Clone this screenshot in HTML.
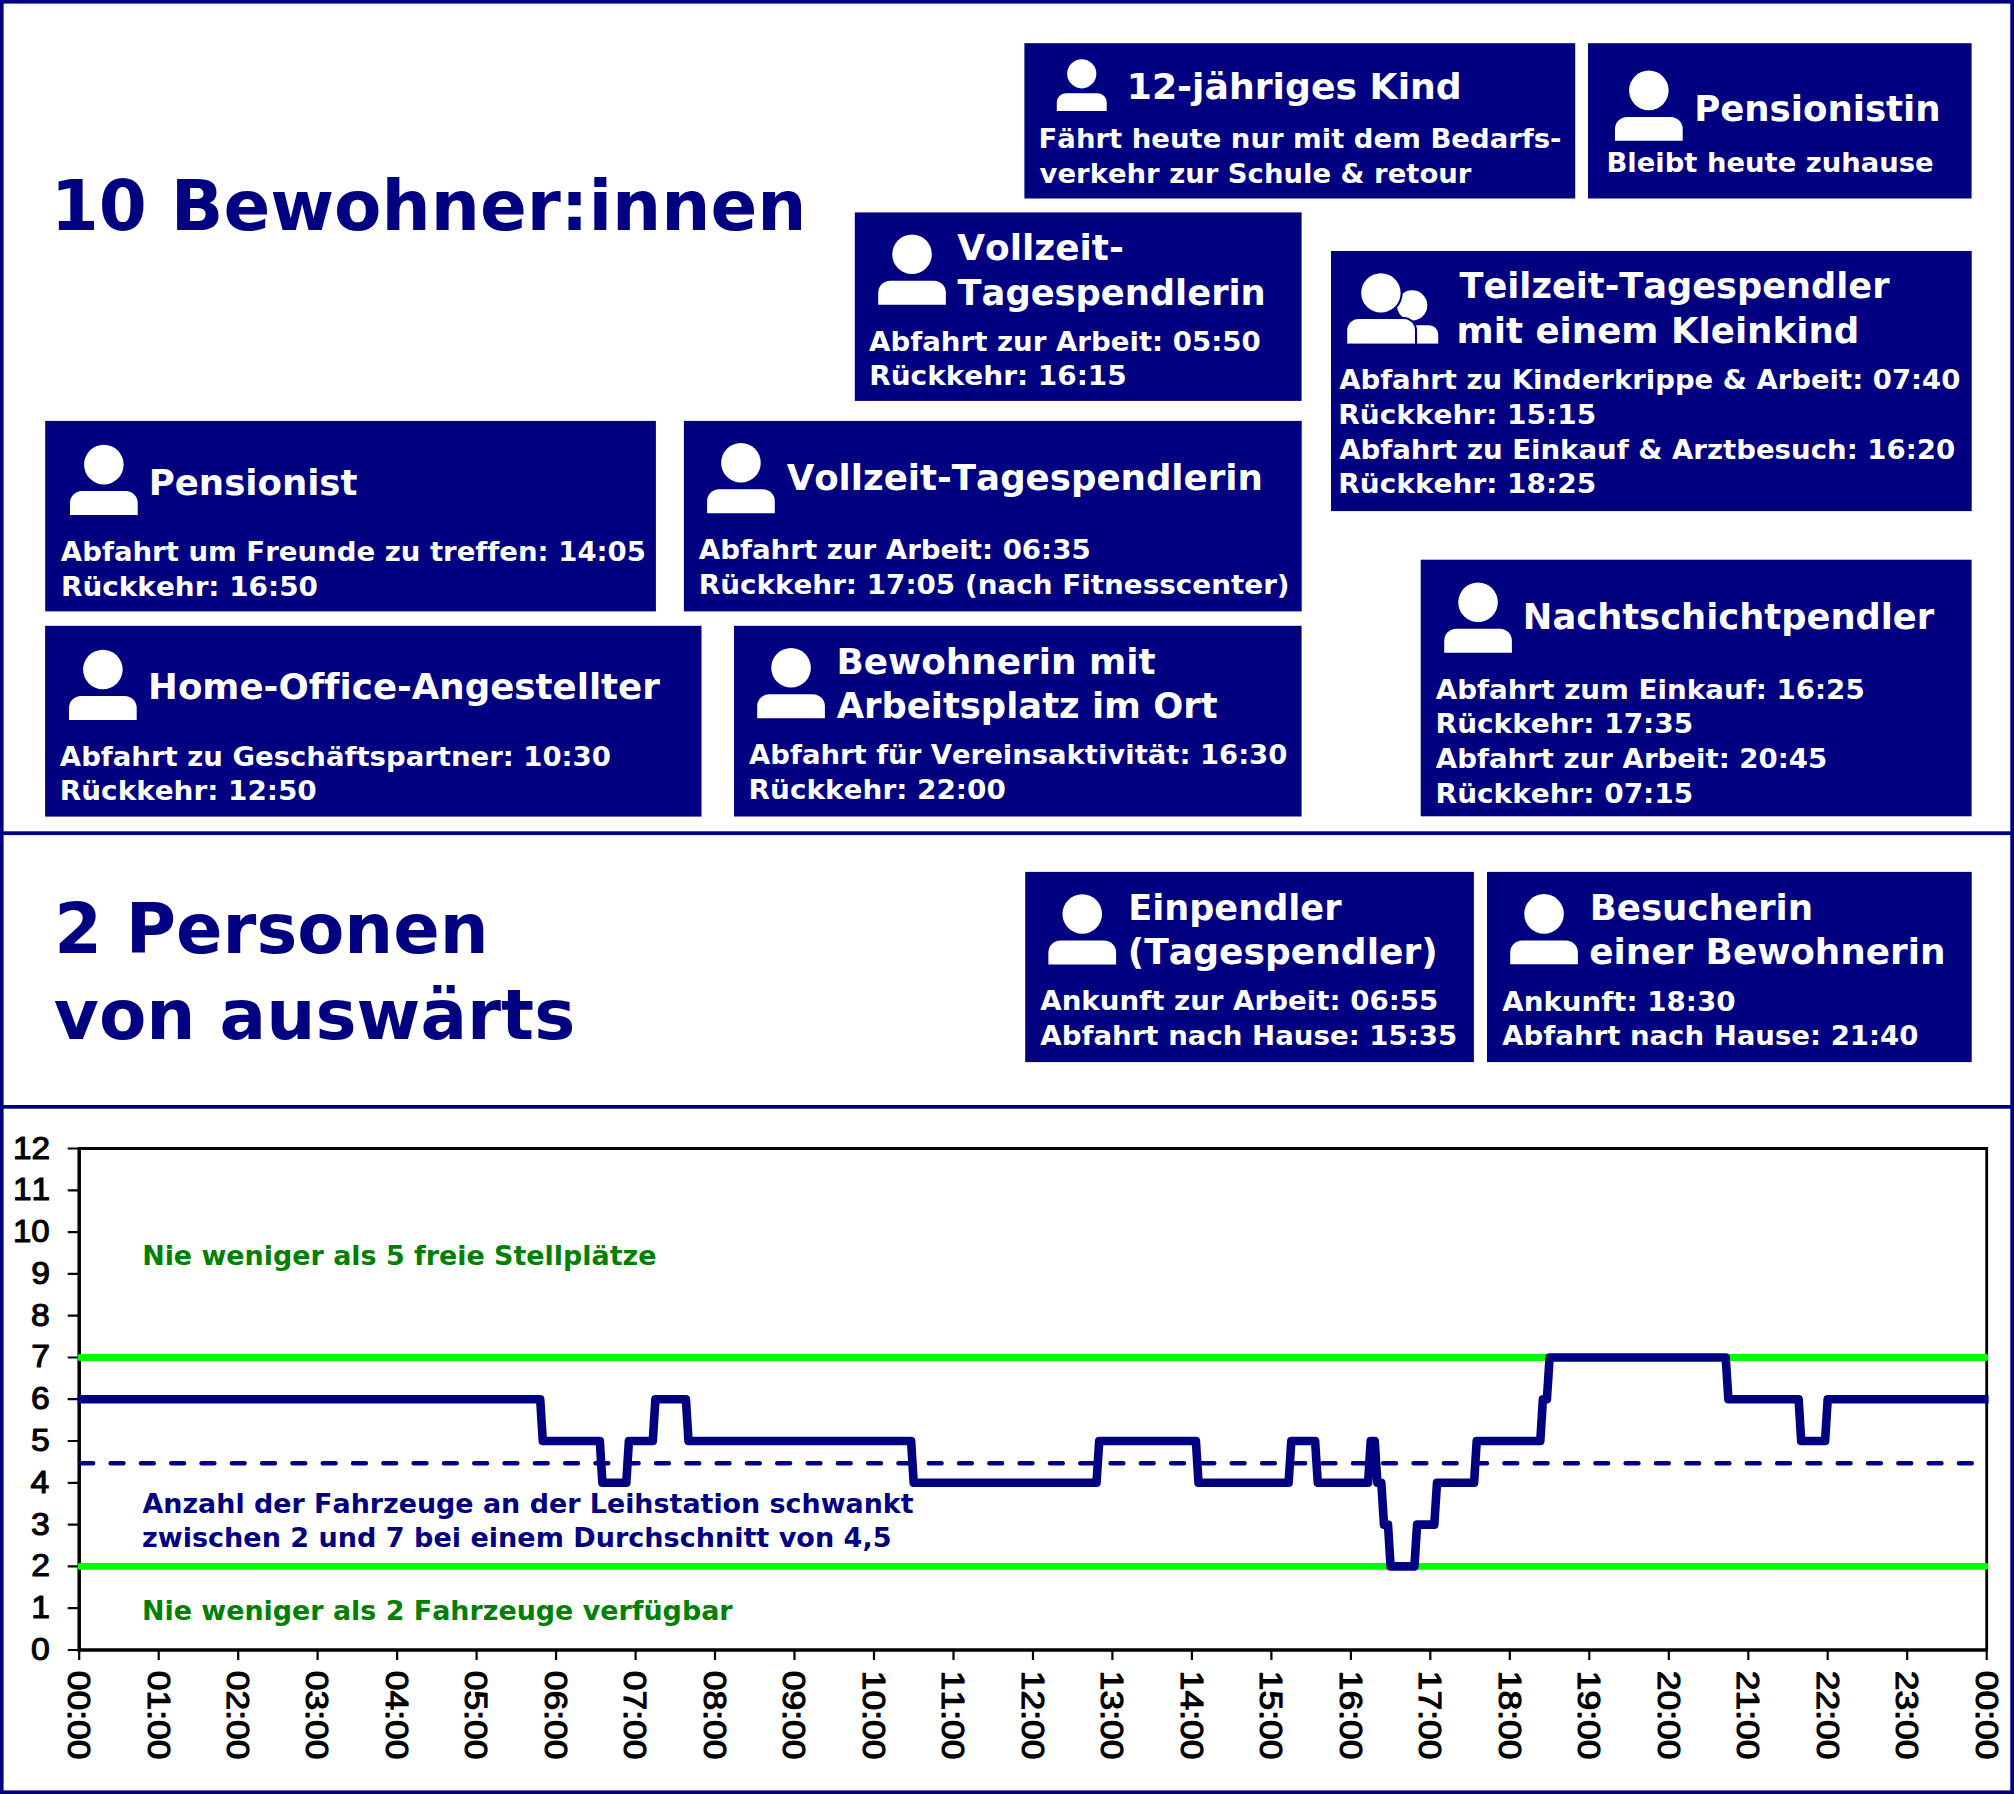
<!DOCTYPE html>
<html lang="de"><head><meta charset="utf-8"><title>Leihstation</title>
<style>
html,body{margin:0;padding:0;background:#fff}
svg{display:block}
text{font-kerning:none;font-variant-ligatures:none;white-space:pre}
.v{font-family:"DejaVu Sans","Liberation Sans",sans-serif;font-weight:bold}
.l{font-family:"Liberation Sans",sans-serif;font-weight:normal}
.lb{font-family:"Liberation Sans",sans-serif;font-weight:bold}
</style></head><body>
<svg width="2014" height="1794" viewBox="0 0 2014 1794">
<rect x="0" y="0" width="2014" height="1794" fill="#fff"/>
<rect x="0.0" y="0.0" width="2014.0" height="3.6" fill="#000080"/>
<rect x="0.0" y="1790.4" width="2014.0" height="3.6" fill="#000080"/>
<rect x="0.0" y="0.0" width="3.6" height="1794.0" fill="#000080"/>
<rect x="2010.3" y="0.0" width="3.7" height="1794.0" fill="#000080"/>
<rect x="0.0" y="831.3" width="2014.0" height="3.8" fill="#000080"/>
<rect x="0.0" y="1105.0" width="2014.0" height="3.7" fill="#000080"/>
<text class="v" x="50.71" y="229.8" font-size="68.8" fill="#000080" textLength="755.68" lengthAdjust="spacingAndGlyphs">10 Bewohner:innen</text>
<text class="v" x="54.17" y="952.7" font-size="68.8" fill="#000080" textLength="434.39" lengthAdjust="spacingAndGlyphs">2 Personen</text>
<text class="v" x="53.85" y="1039.0" font-size="68.8" fill="#000080" textLength="521.42" lengthAdjust="spacingAndGlyphs">von auswärts</text>
<rect x="1024.4" y="43.2" width="550.8" height="155.3" fill="#000080"/>
<circle cx="1081.75" cy="73.79" r="14.59" fill="#fff"/>
<path fill="#fff" d="M1056.80 110.94V102.17a8.84 8.84 0 0 1 8.84 -8.84H1097.85a8.84 8.84 0 0 1 8.84 8.84V110.94Z"/>
<text class="v" x="1126.72" y="99.2" font-size="35.5" fill="#fff" textLength="335.02" lengthAdjust="spacingAndGlyphs">12-jähriges Kind</text>
<text class="v" x="1038.58" y="147.7" font-size="27.3" fill="#fff" textLength="522.91" lengthAdjust="spacingAndGlyphs">Fährt heute nur mit dem Bedarfs-</text>
<text class="v" x="1039.58" y="182.5" font-size="27.3" fill="#fff" textLength="431.80" lengthAdjust="spacingAndGlyphs">verkehr zur Schule &amp; retour</text>
<rect x="1588.0" y="43.2" width="383.6" height="155.3" fill="#000080"/>
<circle cx="1648.85" cy="90.40" r="19.80" fill="#fff"/>
<path fill="#fff" d="M1615.00 140.80V128.90a12.00 12.00 0 0 1 12.00 -12.00H1670.70a12.00 12.00 0 0 1 12.00 12.00V140.80Z"/>
<text class="v" x="1694.14" y="120.9" font-size="35.5" fill="#fff" textLength="246.44" lengthAdjust="spacingAndGlyphs">Pensionistin</text>
<text class="v" x="1606.48" y="171.8" font-size="27.3" fill="#fff" textLength="327.24" lengthAdjust="spacingAndGlyphs">Bleibt heute zuhause</text>
<rect x="854.8" y="212.4" width="446.8" height="188.5" fill="#000080"/>
<circle cx="912.05" cy="254.30" r="19.80" fill="#fff"/>
<path fill="#fff" d="M878.20 304.70V292.80a12.00 12.00 0 0 1 12.00 -12.00H933.90a12.00 12.00 0 0 1 12.00 12.00V304.70Z"/>
<text class="v" x="957.32" y="259.9" font-size="35.5" fill="#fff" textLength="166.52" lengthAdjust="spacingAndGlyphs">Vollzeit-</text>
<text class="v" x="957.53" y="304.6" font-size="35.5" fill="#fff" textLength="308.23" lengthAdjust="spacingAndGlyphs">Tagespendlerin</text>
<text class="v" x="869.07" y="351.1" font-size="27.3" fill="#fff" textLength="391.66" lengthAdjust="spacingAndGlyphs">Abfahrt zur Arbeit: 05:50</text>
<text class="v" x="869.24" y="384.9" font-size="27.3" fill="#fff" textLength="257.51" lengthAdjust="spacingAndGlyphs">Rückkehr: 16:15</text>
<rect x="1331.0" y="251.0" width="640.7" height="260.1" fill="#000080"/>
<text class="v" x="1459.43" y="298.2" font-size="35.5" fill="#fff" textLength="430.17" lengthAdjust="spacingAndGlyphs">Teilzeit-Tagespendler</text>
<text class="v" x="1456.64" y="342.6" font-size="35.5" fill="#fff" textLength="402.65" lengthAdjust="spacingAndGlyphs">mit einem Kleinkind</text>
<text class="v" x="1339.17" y="388.7" font-size="27.3" fill="#fff" textLength="621.15" lengthAdjust="spacingAndGlyphs">Abfahrt zu Kinderkrippe &amp; Arbeit: 07:40</text>
<text class="v" x="1338.33" y="424.0" font-size="27.3" fill="#fff" textLength="257.82" lengthAdjust="spacingAndGlyphs">Rückkehr: 15:15</text>
<text class="v" x="1339.17" y="458.8" font-size="27.3" fill="#fff" textLength="615.95" lengthAdjust="spacingAndGlyphs">Abfahrt zu Einkauf &amp; Arztbesuch: 16:20</text>
<text class="v" x="1338.33" y="492.9" font-size="27.3" fill="#fff" textLength="257.82" lengthAdjust="spacingAndGlyphs">Rückkehr: 18:25</text>
<g fill="#fff"><circle cx="1412.2" cy="305.4" r="15.1"/><path d="M1408 343.8V325.3H1429.2a9 9 0 0 1 9 9V343.8Z"/><g stroke="#000080" stroke-width="4.2" paint-order="stroke"><circle cx="1380.9" cy="292.9" r="19.7"/><path d="M1347.2 343.8V330.5a11.5 11.5 0 0 1 11.5 -11.5H1403.5a11.5 11.5 0 0 1 11.5 11.5V343.8Z"/></g><rect x="1340" y="343.8" width="105" height="4" fill="#000080"/></g>
<rect x="45.2" y="420.9" width="610.7" height="190.5" fill="#000080"/>
<circle cx="103.85" cy="464.60" r="19.80" fill="#fff"/>
<path fill="#fff" d="M70.00 515.00V503.10a12.00 12.00 0 0 1 12.00 -12.00H125.70a12.00 12.00 0 0 1 12.00 12.00V515.00Z"/>
<text class="v" x="148.74" y="494.5" font-size="35.5" fill="#fff" textLength="208.78" lengthAdjust="spacingAndGlyphs">Pensionist</text>
<text class="v" x="60.87" y="561.1" font-size="27.3" fill="#fff" textLength="585.06" lengthAdjust="spacingAndGlyphs">Abfahrt um Freunde zu treffen: 14:05</text>
<text class="v" x="61.04" y="595.6" font-size="27.3" fill="#fff" textLength="256.89" lengthAdjust="spacingAndGlyphs">Rückkehr: 16:50</text>
<rect x="683.9" y="420.9" width="617.8" height="190.5" fill="#000080"/>
<circle cx="740.95" cy="462.80" r="19.80" fill="#fff"/>
<path fill="#fff" d="M707.10 513.20V501.30a12.00 12.00 0 0 1 12.00 -12.00H762.80a12.00 12.00 0 0 1 12.00 12.00V513.20Z"/>
<text class="v" x="786.63" y="489.7" font-size="35.5" fill="#fff" textLength="476.15" lengthAdjust="spacingAndGlyphs">Vollzeit-Tagespendlerin</text>
<text class="v" x="698.77" y="559.3" font-size="27.3" fill="#fff" textLength="391.86" lengthAdjust="spacingAndGlyphs">Abfahrt zur Arbeit: 06:35</text>
<text class="v" x="698.75" y="593.6" font-size="27.3" fill="#fff" textLength="590.84" lengthAdjust="spacingAndGlyphs">Rückkehr: 17:05 (nach Fitnesscenter)</text>
<rect x="45.1" y="625.8" width="656.4" height="190.8" fill="#000080"/>
<circle cx="102.85" cy="669.50" r="19.80" fill="#fff"/>
<path fill="#fff" d="M69.00 719.90V708.00a12.00 12.00 0 0 1 12.00 -12.00H124.70a12.00 12.00 0 0 1 12.00 12.00V719.90Z"/>
<text class="v" x="148.13" y="699.4" font-size="35.5" fill="#fff" textLength="511.67" lengthAdjust="spacingAndGlyphs">Home-Office-Angestellter</text>
<text class="v" x="59.87" y="765.6" font-size="27.3" fill="#fff" textLength="551.05" lengthAdjust="spacingAndGlyphs">Abfahrt zu Geschäftspartner: 10:30</text>
<text class="v" x="59.84" y="800.2" font-size="27.3" fill="#fff" textLength="256.89" lengthAdjust="spacingAndGlyphs">Rückkehr: 12:50</text>
<rect x="734.0" y="625.8" width="567.6" height="190.7" fill="#000080"/>
<circle cx="791.05" cy="667.80" r="19.80" fill="#fff"/>
<path fill="#fff" d="M757.20 718.20V706.30a12.00 12.00 0 0 1 12.00 -12.00H812.90a12.00 12.00 0 0 1 12.00 12.00V718.20Z"/>
<text class="v" x="836.51" y="673.8" font-size="35.5" fill="#fff" textLength="319.21" lengthAdjust="spacingAndGlyphs">Bewohnerin mit</text>
<text class="v" x="836.63" y="717.7" font-size="35.5" fill="#fff" textLength="381.08" lengthAdjust="spacingAndGlyphs">Arbeitsplatz im Ort</text>
<text class="v" x="749.07" y="763.9" font-size="27.3" fill="#fff" textLength="538.25" lengthAdjust="spacingAndGlyphs">Abfahrt für Vereinsaktivität: 16:30</text>
<text class="v" x="748.64" y="798.5" font-size="27.3" fill="#fff" textLength="257.20" lengthAdjust="spacingAndGlyphs">Rückkehr: 22:00</text>
<rect x="1420.7" y="559.7" width="550.9" height="256.6" fill="#000080"/>
<circle cx="1478.05" cy="602.30" r="19.80" fill="#fff"/>
<path fill="#fff" d="M1444.20 652.70V640.80a12.00 12.00 0 0 1 12.00 -12.00H1499.90a12.00 12.00 0 0 1 12.00 12.00V652.70Z"/>
<text class="v" x="1522.86" y="628.8" font-size="35.5" fill="#fff" textLength="411.34" lengthAdjust="spacingAndGlyphs">Nachtschichtpendler</text>
<text class="v" x="1435.76" y="699.0" font-size="27.3" fill="#fff" textLength="428.97" lengthAdjust="spacingAndGlyphs">Abfahrt zum Einkauf: 16:25</text>
<text class="v" x="1435.64" y="733.1" font-size="27.3" fill="#fff" textLength="257.51" lengthAdjust="spacingAndGlyphs">Rückkehr: 17:35</text>
<text class="v" x="1435.77" y="768.2" font-size="27.3" fill="#fff" textLength="391.46" lengthAdjust="spacingAndGlyphs">Abfahrt zur Arbeit: 20:45</text>
<text class="v" x="1435.64" y="802.6" font-size="27.3" fill="#fff" textLength="257.51" lengthAdjust="spacingAndGlyphs">Rückkehr: 07:15</text>
<rect x="1025.2" y="871.9" width="448.7" height="190.2" fill="#000080"/>
<circle cx="1082.25" cy="914.00" r="19.80" fill="#fff"/>
<path fill="#fff" d="M1048.40 964.40V952.50a12.00 12.00 0 0 1 12.00 -12.00H1104.10a12.00 12.00 0 0 1 12.00 12.00V964.40Z"/>
<text class="v" x="1128.18" y="919.5" font-size="35.5" fill="#fff" textLength="213.33" lengthAdjust="spacingAndGlyphs">Einpendler</text>
<text class="v" x="1127.80" y="963.5" font-size="35.5" fill="#fff" textLength="309.90" lengthAdjust="spacingAndGlyphs">(Tagespendler)</text>
<text class="v" x="1040.26" y="1010.4" font-size="27.3" fill="#fff" textLength="397.97" lengthAdjust="spacingAndGlyphs">Ankunft zur Arbeit: 06:55</text>
<text class="v" x="1040.27" y="1044.6" font-size="27.3" fill="#fff" textLength="416.96" lengthAdjust="spacingAndGlyphs">Abfahrt nach Hause: 15:35</text>
<rect x="1487.0" y="871.9" width="484.7" height="190.2" fill="#000080"/>
<circle cx="1544.05" cy="913.90" r="19.80" fill="#fff"/>
<path fill="#fff" d="M1510.20 964.30V952.40a12.00 12.00 0 0 1 12.00 -12.00H1565.90a12.00 12.00 0 0 1 12.00 12.00V964.30Z"/>
<text class="v" x="1589.63" y="919.6" font-size="35.5" fill="#fff" textLength="223.55" lengthAdjust="spacingAndGlyphs">Besucherin</text>
<text class="v" x="1589.16" y="963.5" font-size="35.5" fill="#fff" textLength="356.34" lengthAdjust="spacingAndGlyphs">einer Bewohnerin</text>
<text class="v" x="1502.26" y="1010.6" font-size="27.3" fill="#fff" textLength="233.26" lengthAdjust="spacingAndGlyphs">Ankunft: 18:30</text>
<text class="v" x="1502.27" y="1045.0" font-size="27.3" fill="#fff" textLength="416.15" lengthAdjust="spacingAndGlyphs">Abfahrt nach Hause: 21:40</text>
<path d="M79.2 1148.5H1986.7V1650.0" fill="none" stroke="#000" stroke-width="2.8"/>
<path d="M79.2 1147.3V1650.0H1987.9" fill="none" stroke="#000" stroke-width="3.5" stroke-linejoin="miter"/>
<line x1="68.6" y1="1650.0" x2="79.2" y2="1650.0" stroke="#000" stroke-width="2.2" stroke-linecap="round"/>
<line x1="68.6" y1="1608.2" x2="79.2" y2="1608.2" stroke="#000" stroke-width="2.2" stroke-linecap="round"/>
<line x1="68.6" y1="1566.4" x2="79.2" y2="1566.4" stroke="#000" stroke-width="2.2" stroke-linecap="round"/>
<line x1="68.6" y1="1524.6" x2="79.2" y2="1524.6" stroke="#000" stroke-width="2.2" stroke-linecap="round"/>
<line x1="68.6" y1="1482.8" x2="79.2" y2="1482.8" stroke="#000" stroke-width="2.2" stroke-linecap="round"/>
<line x1="68.6" y1="1441.0" x2="79.2" y2="1441.0" stroke="#000" stroke-width="2.2" stroke-linecap="round"/>
<line x1="68.6" y1="1399.2" x2="79.2" y2="1399.2" stroke="#000" stroke-width="2.2" stroke-linecap="round"/>
<line x1="68.6" y1="1357.5" x2="79.2" y2="1357.5" stroke="#000" stroke-width="2.2" stroke-linecap="round"/>
<line x1="68.6" y1="1315.7" x2="79.2" y2="1315.7" stroke="#000" stroke-width="2.2" stroke-linecap="round"/>
<line x1="68.6" y1="1273.9" x2="79.2" y2="1273.9" stroke="#000" stroke-width="2.2" stroke-linecap="round"/>
<line x1="68.6" y1="1232.1" x2="79.2" y2="1232.1" stroke="#000" stroke-width="2.2" stroke-linecap="round"/>
<line x1="68.6" y1="1190.3" x2="79.2" y2="1190.3" stroke="#000" stroke-width="2.2" stroke-linecap="round"/>
<line x1="68.6" y1="1148.5" x2="79.2" y2="1148.5" stroke="#000" stroke-width="2.2" stroke-linecap="round"/>
<line x1="79.2" y1="1650.0" x2="79.2" y2="1660.0" stroke="#000" stroke-width="2.2"/>
<line x1="158.7" y1="1650.0" x2="158.7" y2="1660.0" stroke="#000" stroke-width="2.2"/>
<line x1="238.2" y1="1650.0" x2="238.2" y2="1660.0" stroke="#000" stroke-width="2.2"/>
<line x1="317.6" y1="1650.0" x2="317.6" y2="1660.0" stroke="#000" stroke-width="2.2"/>
<line x1="397.1" y1="1650.0" x2="397.1" y2="1660.0" stroke="#000" stroke-width="2.2"/>
<line x1="476.6" y1="1650.0" x2="476.6" y2="1660.0" stroke="#000" stroke-width="2.2"/>
<line x1="556.1" y1="1650.0" x2="556.1" y2="1660.0" stroke="#000" stroke-width="2.2"/>
<line x1="635.6" y1="1650.0" x2="635.6" y2="1660.0" stroke="#000" stroke-width="2.2"/>
<line x1="715.0" y1="1650.0" x2="715.0" y2="1660.0" stroke="#000" stroke-width="2.2"/>
<line x1="794.5" y1="1650.0" x2="794.5" y2="1660.0" stroke="#000" stroke-width="2.2"/>
<line x1="874.0" y1="1650.0" x2="874.0" y2="1660.0" stroke="#000" stroke-width="2.2"/>
<line x1="953.5" y1="1650.0" x2="953.5" y2="1660.0" stroke="#000" stroke-width="2.2"/>
<line x1="1033.0" y1="1650.0" x2="1033.0" y2="1660.0" stroke="#000" stroke-width="2.2"/>
<line x1="1112.4" y1="1650.0" x2="1112.4" y2="1660.0" stroke="#000" stroke-width="2.2"/>
<line x1="1191.9" y1="1650.0" x2="1191.9" y2="1660.0" stroke="#000" stroke-width="2.2"/>
<line x1="1271.4" y1="1650.0" x2="1271.4" y2="1660.0" stroke="#000" stroke-width="2.2"/>
<line x1="1350.9" y1="1650.0" x2="1350.9" y2="1660.0" stroke="#000" stroke-width="2.2"/>
<line x1="1430.3" y1="1650.0" x2="1430.3" y2="1660.0" stroke="#000" stroke-width="2.2"/>
<line x1="1509.8" y1="1650.0" x2="1509.8" y2="1660.0" stroke="#000" stroke-width="2.2"/>
<line x1="1589.3" y1="1650.0" x2="1589.3" y2="1660.0" stroke="#000" stroke-width="2.2"/>
<line x1="1668.8" y1="1650.0" x2="1668.8" y2="1660.0" stroke="#000" stroke-width="2.2"/>
<line x1="1748.3" y1="1650.0" x2="1748.3" y2="1660.0" stroke="#000" stroke-width="2.2"/>
<line x1="1827.7" y1="1650.0" x2="1827.7" y2="1660.0" stroke="#000" stroke-width="2.2"/>
<line x1="1907.2" y1="1650.0" x2="1907.2" y2="1660.0" stroke="#000" stroke-width="2.2"/>
<line x1="1986.7" y1="1650.0" x2="1986.7" y2="1660.0" stroke="#000" stroke-width="2.2"/>
<rect x="77.7" y="1354.1" width="1910.4" height="6.8" rx="2" fill="#00ff00"/>
<rect x="77.7" y="1563.0" width="1910.4" height="6.8" rx="2" fill="#00ff00"/>
<line x1="80.35" y1="1463.2" x2="1986.7" y2="1463.2" stroke="#000080" stroke-width="4.5" stroke-linecap="round" stroke-dasharray="12.8 17.5"/>
<path d="M77.7 1399.2L540.2 1399.2L542.8 1441.0L599.8 1441.0L602.4 1482.8L626.3 1482.8L628.9 1441.0L652.8 1441.0L655.4 1399.2L685.9 1399.2L688.5 1441.0L911.1 1441.0L913.7 1482.8L1096.5 1482.8L1099.2 1441.0L1195.9 1441.0L1198.5 1482.8L1288.6 1482.8L1291.3 1441.0L1315.1 1441.0L1317.8 1482.8L1368.1 1482.8L1370.7 1441.0L1374.7 1441.0L1377.4 1482.8L1381.3 1482.8L1384.0 1524.6L1388.0 1524.6L1390.6 1566.4L1414.4 1566.4L1417.1 1524.6L1434.3 1524.6L1437.0 1482.8L1474.1 1482.8L1476.7 1441.0L1540.3 1441.0L1542.9 1399.2L1546.9 1399.2L1549.6 1357.5L1725.7 1357.5L1728.4 1399.2L1798.6 1399.2L1801.2 1441.0L1825.1 1441.0L1827.7 1399.2L1988.6 1399.2" fill="none" stroke="#000080" stroke-width="8.6" stroke-linejoin="round" stroke-linecap="butt"/>
<text class="l" x="30.92" y="1660.0" font-size="32.1" fill="#000" textLength="18.75" lengthAdjust="spacingAndGlyphs" stroke="#000" stroke-width="1.1" stroke-linejoin="round">0</text>
<text class="l" x="31.25" y="1618.2" font-size="32.1" fill="#000" textLength="18.75" lengthAdjust="spacingAndGlyphs" stroke="#000" stroke-width="1.1" stroke-linejoin="round">1</text>
<text class="l" x="31.30" y="1576.4" font-size="32.1" fill="#000" textLength="18.75" lengthAdjust="spacingAndGlyphs" stroke="#000" stroke-width="1.1" stroke-linejoin="round">2</text>
<text class="l" x="31.09" y="1534.6" font-size="32.1" fill="#000" textLength="18.75" lengthAdjust="spacingAndGlyphs" stroke="#000" stroke-width="1.1" stroke-linejoin="round">3</text>
<text class="l" x="30.59" y="1492.8" font-size="32.1" fill="#000" textLength="18.75" lengthAdjust="spacingAndGlyphs" stroke="#000" stroke-width="1.1" stroke-linejoin="round">4</text>
<text class="l" x="31.02" y="1451.0" font-size="32.1" fill="#000" textLength="18.75" lengthAdjust="spacingAndGlyphs" stroke="#000" stroke-width="1.1" stroke-linejoin="round">5</text>
<text class="l" x="31.09" y="1409.2" font-size="32.1" fill="#000" textLength="18.75" lengthAdjust="spacingAndGlyphs" stroke="#000" stroke-width="1.1" stroke-linejoin="round">6</text>
<text class="l" x="31.30" y="1367.4" font-size="32.1" fill="#000" textLength="18.75" lengthAdjust="spacingAndGlyphs" stroke="#000" stroke-width="1.1" stroke-linejoin="round">7</text>
<text class="l" x="31.07" y="1325.6" font-size="32.1" fill="#000" textLength="18.75" lengthAdjust="spacingAndGlyphs" stroke="#000" stroke-width="1.1" stroke-linejoin="round">8</text>
<text class="l" x="31.20" y="1283.8" font-size="32.1" fill="#000" textLength="18.75" lengthAdjust="spacingAndGlyphs" stroke="#000" stroke-width="1.1" stroke-linejoin="round">9</text>
<text class="l" x="12.94" y="1242.0" font-size="32.1" fill="#000" textLength="36.70" lengthAdjust="spacingAndGlyphs" stroke="#000" stroke-width="1.1" stroke-linejoin="round">10</text>
<text class="l" x="12.91" y="1200.2" font-size="32.1" fill="#000" textLength="37.07" lengthAdjust="spacingAndGlyphs" stroke="#000" stroke-width="1.1" stroke-linejoin="round">11</text>
<text class="l" x="12.91" y="1158.5" font-size="32.1" fill="#000" textLength="37.12" lengthAdjust="spacingAndGlyphs" stroke="#000" stroke-width="1.1" stroke-linejoin="round">12</text>
<g transform="translate(67.5 1671.7) rotate(90)">
<text class="l" x="-0.83" y="-0.6" font-size="32.1" fill="#000" textLength="88.67" lengthAdjust="spacingAndGlyphs" stroke="#000" stroke-width="1.1" stroke-linejoin="round">00:00</text>
</g>
<g transform="translate(147.0 1671.7) rotate(90)">
<text class="l" x="-0.83" y="-0.6" font-size="32.1" fill="#000" textLength="88.67" lengthAdjust="spacingAndGlyphs" stroke="#000" stroke-width="1.1" stroke-linejoin="round">01:00</text>
</g>
<g transform="translate(226.5 1671.7) rotate(90)">
<text class="l" x="-0.83" y="-0.6" font-size="32.1" fill="#000" textLength="88.67" lengthAdjust="spacingAndGlyphs" stroke="#000" stroke-width="1.1" stroke-linejoin="round">02:00</text>
</g>
<g transform="translate(305.9 1671.7) rotate(90)">
<text class="l" x="-0.83" y="-0.6" font-size="32.1" fill="#000" textLength="88.67" lengthAdjust="spacingAndGlyphs" stroke="#000" stroke-width="1.1" stroke-linejoin="round">03:00</text>
</g>
<g transform="translate(385.4 1671.7) rotate(90)">
<text class="l" x="-0.83" y="-0.6" font-size="32.1" fill="#000" textLength="88.67" lengthAdjust="spacingAndGlyphs" stroke="#000" stroke-width="1.1" stroke-linejoin="round">04:00</text>
</g>
<g transform="translate(464.9 1671.7) rotate(90)">
<text class="l" x="-0.83" y="-0.6" font-size="32.1" fill="#000" textLength="88.67" lengthAdjust="spacingAndGlyphs" stroke="#000" stroke-width="1.1" stroke-linejoin="round">05:00</text>
</g>
<g transform="translate(544.4 1671.7) rotate(90)">
<text class="l" x="-0.83" y="-0.6" font-size="32.1" fill="#000" textLength="88.67" lengthAdjust="spacingAndGlyphs" stroke="#000" stroke-width="1.1" stroke-linejoin="round">06:00</text>
</g>
<g transform="translate(623.9 1671.7) rotate(90)">
<text class="l" x="-0.83" y="-0.6" font-size="32.1" fill="#000" textLength="88.67" lengthAdjust="spacingAndGlyphs" stroke="#000" stroke-width="1.1" stroke-linejoin="round">07:00</text>
</g>
<g transform="translate(703.3 1671.7) rotate(90)">
<text class="l" x="-0.83" y="-0.6" font-size="32.1" fill="#000" textLength="88.67" lengthAdjust="spacingAndGlyphs" stroke="#000" stroke-width="1.1" stroke-linejoin="round">08:00</text>
</g>
<g transform="translate(782.8 1671.7) rotate(90)">
<text class="l" x="-0.83" y="-0.6" font-size="32.1" fill="#000" textLength="88.67" lengthAdjust="spacingAndGlyphs" stroke="#000" stroke-width="1.1" stroke-linejoin="round">09:00</text>
</g>
<g transform="translate(862.3 1671.7) rotate(90)">
<text class="l" x="-0.83" y="-0.6" font-size="32.1" fill="#000" textLength="88.67" lengthAdjust="spacingAndGlyphs" stroke="#000" stroke-width="1.1" stroke-linejoin="round">10:00</text>
</g>
<g transform="translate(941.8 1671.7) rotate(90)">
<text class="l" x="-0.83" y="-0.6" font-size="32.1" fill="#000" textLength="88.67" lengthAdjust="spacingAndGlyphs" stroke="#000" stroke-width="1.1" stroke-linejoin="round">11:00</text>
</g>
<g transform="translate(1021.2 1671.7) rotate(90)">
<text class="l" x="-0.83" y="-0.6" font-size="32.1" fill="#000" textLength="88.67" lengthAdjust="spacingAndGlyphs" stroke="#000" stroke-width="1.1" stroke-linejoin="round">12:00</text>
</g>
<g transform="translate(1100.7 1671.7) rotate(90)">
<text class="l" x="-0.83" y="-0.6" font-size="32.1" fill="#000" textLength="88.67" lengthAdjust="spacingAndGlyphs" stroke="#000" stroke-width="1.1" stroke-linejoin="round">13:00</text>
</g>
<g transform="translate(1180.2 1671.7) rotate(90)">
<text class="l" x="-0.83" y="-0.6" font-size="32.1" fill="#000" textLength="88.67" lengthAdjust="spacingAndGlyphs" stroke="#000" stroke-width="1.1" stroke-linejoin="round">14:00</text>
</g>
<g transform="translate(1259.7 1671.7) rotate(90)">
<text class="l" x="-0.83" y="-0.6" font-size="32.1" fill="#000" textLength="88.67" lengthAdjust="spacingAndGlyphs" stroke="#000" stroke-width="1.1" stroke-linejoin="round">15:00</text>
</g>
<g transform="translate(1339.2 1671.7) rotate(90)">
<text class="l" x="-0.83" y="-0.6" font-size="32.1" fill="#000" textLength="88.67" lengthAdjust="spacingAndGlyphs" stroke="#000" stroke-width="1.1" stroke-linejoin="round">16:00</text>
</g>
<g transform="translate(1418.6 1671.7) rotate(90)">
<text class="l" x="-0.83" y="-0.6" font-size="32.1" fill="#000" textLength="88.67" lengthAdjust="spacingAndGlyphs" stroke="#000" stroke-width="1.1" stroke-linejoin="round">17:00</text>
</g>
<g transform="translate(1498.1 1671.7) rotate(90)">
<text class="l" x="-0.83" y="-0.6" font-size="32.1" fill="#000" textLength="88.67" lengthAdjust="spacingAndGlyphs" stroke="#000" stroke-width="1.1" stroke-linejoin="round">18:00</text>
</g>
<g transform="translate(1577.6 1671.7) rotate(90)">
<text class="l" x="-0.83" y="-0.6" font-size="32.1" fill="#000" textLength="88.67" lengthAdjust="spacingAndGlyphs" stroke="#000" stroke-width="1.1" stroke-linejoin="round">19:00</text>
</g>
<g transform="translate(1657.1 1671.7) rotate(90)">
<text class="l" x="-0.83" y="-0.6" font-size="32.1" fill="#000" textLength="88.67" lengthAdjust="spacingAndGlyphs" stroke="#000" stroke-width="1.1" stroke-linejoin="round">20:00</text>
</g>
<g transform="translate(1736.6 1671.7) rotate(90)">
<text class="l" x="-0.83" y="-0.6" font-size="32.1" fill="#000" textLength="88.67" lengthAdjust="spacingAndGlyphs" stroke="#000" stroke-width="1.1" stroke-linejoin="round">21:00</text>
</g>
<g transform="translate(1816.0 1671.7) rotate(90)">
<text class="l" x="-0.83" y="-0.6" font-size="32.1" fill="#000" textLength="88.67" lengthAdjust="spacingAndGlyphs" stroke="#000" stroke-width="1.1" stroke-linejoin="round">22:00</text>
</g>
<g transform="translate(1895.5 1671.7) rotate(90)">
<text class="l" x="-0.83" y="-0.6" font-size="32.1" fill="#000" textLength="88.67" lengthAdjust="spacingAndGlyphs" stroke="#000" stroke-width="1.1" stroke-linejoin="round">23:00</text>
</g>
<g transform="translate(1975.0 1671.7) rotate(90)">
<text class="l" x="-0.83" y="-0.6" font-size="32.1" fill="#000" textLength="88.67" lengthAdjust="spacingAndGlyphs" stroke="#000" stroke-width="1.1" stroke-linejoin="round">00:00</text>
</g>
<text class="v" x="142.13" y="1264.6" font-size="27.0" fill="#008000" textLength="514.37" lengthAdjust="spacingAndGlyphs">Nie weniger als 5 freie Stellplätze</text>
<text class="v" x="142.47" y="1512.9" font-size="27.0" fill="#000080" textLength="771.15" lengthAdjust="spacingAndGlyphs">Anzahl der Fahrzeuge an der Leihstation schwankt</text>
<text class="v" x="141.99" y="1547.0" font-size="27.0" fill="#000080" textLength="749.50" lengthAdjust="spacingAndGlyphs">zwischen 2 und 7 bei einem Durchschnitt von 4,5</text>
<text class="v" x="141.93" y="1620.2" font-size="27.0" fill="#008000" textLength="590.65" lengthAdjust="spacingAndGlyphs">Nie weniger als 2 Fahrzeuge verfügbar</text>
</svg>
</body></html>
